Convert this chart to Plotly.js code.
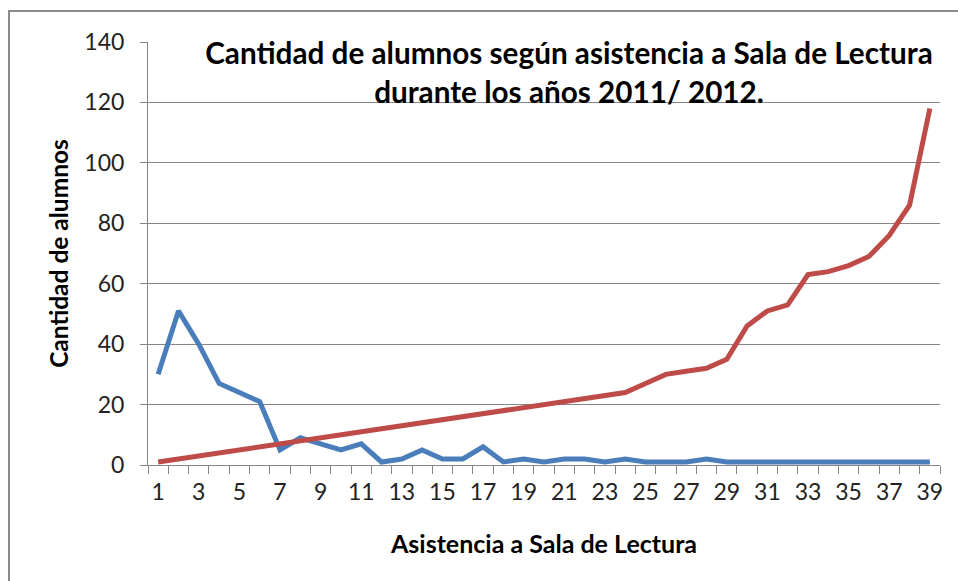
<!DOCTYPE html>
<html>
<head>
<meta charset="utf-8">
<script src="https://cdn.plot.ly/plotly-3.0.1.min.js"></script>
<style>
  html, body { margin: 0; padding: 0; background: #ffffff; }
  #wrap { position: relative; width: 958px; height: 581px; overflow: hidden; }
  #chart { width: 958px; height: 581px; }
  #frame { position: absolute; left: 8px; top: 10px; width: 960px; height: 580px;
           border-top: 2px solid #8a8a8a; border-left: 2px solid #8a8a8a; pointer-events: none; }
</style>
</head>
<body>
<div id="wrap">
  <div id="chart"></div>
  <div id="frame"></div>
</div>
<script>
// Asistencia a Sala de Lectura (categories)
const asistencia = [1,2,3,4,5,6,7,8,9,10,11,12,13,14,15,16,17,18,19,20,
                    21,22,23,24,25,26,27,28,29,30,31,32,33,34,35,36,37,38,39];
// Series 1 (blue)
const serieAzul = [30,51,40,27,24,21,5,9,7,5,7,1,2,5,2,2,6,1,2,1,
                   2,2,1,2,1,1,1,2,1,1,1,1,1,1,1,1,1,1,1];
// Series 2 (red)
const serieRoja = [1,2,3,4,5,6,7,8,9,10,11,12,13,14,15,16,17,18,19,20,
                   21,22,23,24,27,30,31,32,35,46,51,53,63,64,66,69,76,86,118];
// x tick labels shown
const xTickLabels = ['1','3','5','7','9','11','13','15','17','19','21','23','25','27','29','31','33','35','37','39'];
const yTickVals = [0,20,40,60,80,100,120,140];

const grid = '#868686';
const fam = 'Lato, "Liberation Sans", sans-serif';
const tickFont = {family: fam, size: 23, color: '#222222'};

const traces = [
  {x: asistencia, y: serieAzul, type: 'scatter', mode: 'lines', name: 'Serie1',
   line: {color: '#4a7ebb', width: 5}, hoverinfo: 'x+y'},
  {x: asistencia, y: serieRoja, type: 'scatter', mode: 'lines', name: 'Serie2',
   line: {color: '#be4b48', width: 5}, hoverinfo: 'x+y'}
];

const layout = {
  width: 958, height: 581,
  margin: {l: 148, r: 18, t: 42, b: 116, pad: 0},
  paper_bgcolor: '#ffffff', plot_bgcolor: '#ffffff',
  showlegend: false,
  title: {
    text: '<b>Cantidad de alumnos según asistencia a Sala de Lectura<br>durante los años 2011/ 2012.</b>',
    font: {family: fam, size: 29.7, color: '#000000'},
    x: 569 / 958, xref: 'container', xanchor: 'center',
    y: 1 - 64 / 581, yref: 'container', yanchor: 'top'
  },
  xaxis: {
    range: [0.5, 39.5],
    tickmode: 'array',
    tickvals: xTickLabels.map(Number),
    ticktext: xTickLabels,
    ticks: '',
    ticklabelstandoff: 6,
    tickfont: tickFont,
    showgrid: false,
    zeroline: false,
    showline: true, linecolor: grid, linewidth: 1,
    minor: {tickmode: 'linear', tick0: 0.5, dtick: 1, ticks: 'outside', ticklen: 8,
            tickcolor: grid, tickwidth: 1, showgrid: false},
    title: {text: '<b>Asistencia a Sala de Lectura</b>', standoff: 31,
            font: {family: fam, size: 25, color: '#000000'}},
    fixedrange: true
  },
  yaxis: {
    range: [0, 140],
    tickmode: 'array',
    tickvals: yTickVals,
    ticks: 'outside', ticklen: 7, tickcolor: grid, tickwidth: 1,
    ticklabelstandoff: 11,
    tickfont: tickFont,
    showgrid: true, gridcolor: grid, gridwidth: 1,
    zeroline: false,
    showline: true, linecolor: grid, linewidth: 1,
    title: {text: '<b>Cantidad de alumnos</b>', standoff: 8,
            font: {family: fam, size: 24.5, color: '#000000'}},
    fixedrange: true
  }
};

Plotly.newPlot('chart', traces, layout, {displayModeBar: false, staticPlot: true});
</script>
</body>
</html>
